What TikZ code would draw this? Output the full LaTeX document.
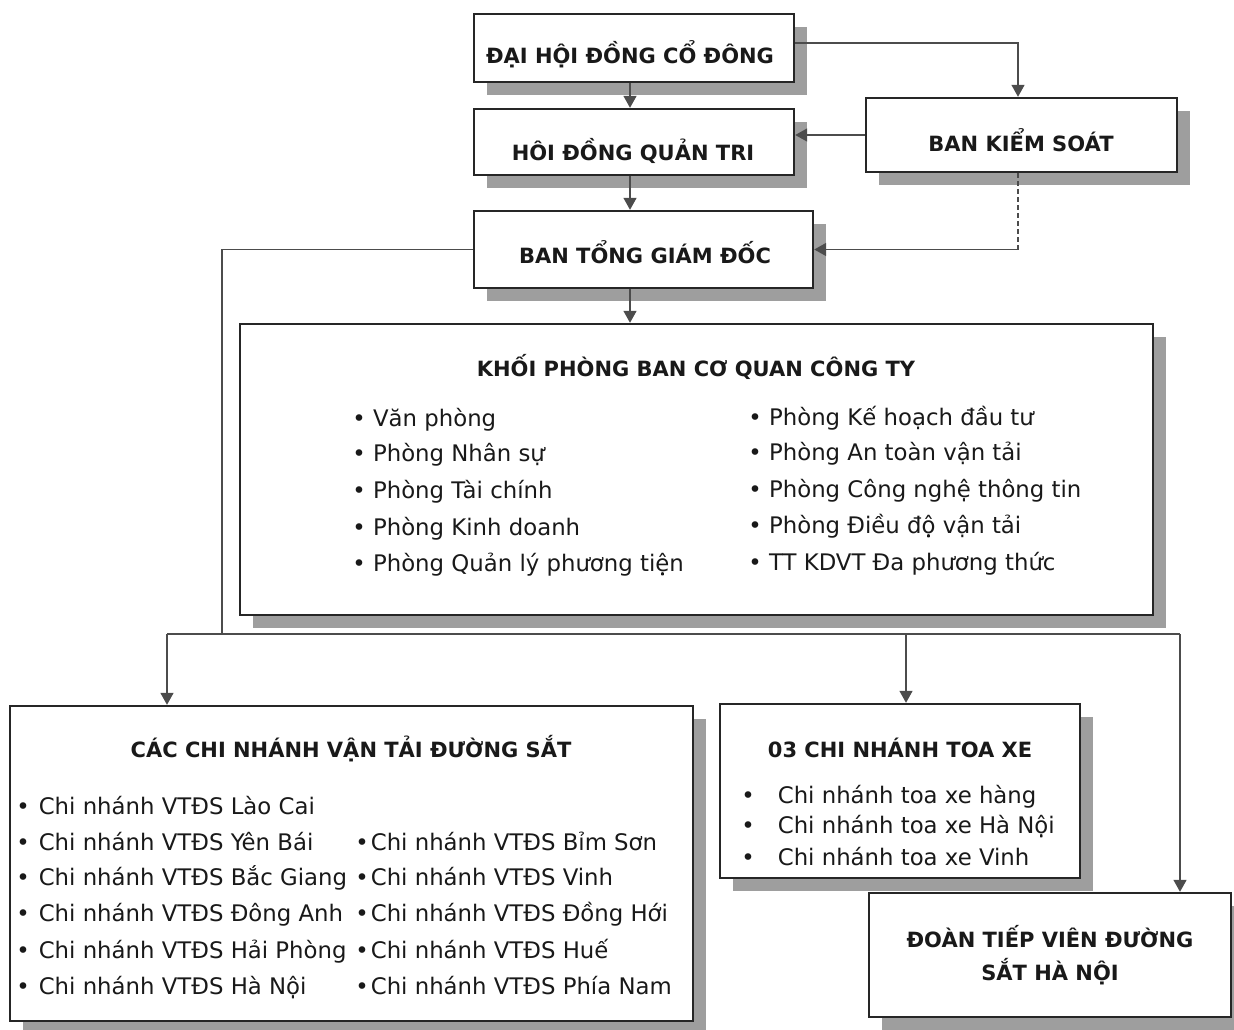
\documentclass[tikz,border=0pt]{standalone}
\usepackage{fontspec}
\setmainfont{DejaVu Sans}
\usetikzlibrary{arrows.meta,shadows}
\begin{document}
\begin{tikzpicture}[x=0.5pt,y=-0.5pt,
  box/.style={draw=black!85, line width=1.2pt, fill=white, inner sep=0pt,
    drop shadow={shadow xshift=6.5pt, shadow yshift=-6.5pt, fill=black!38, opacity=1}},
  ttl/.style={font=\bfseries\fontsize{10.5}{16.5}\selectfont, inner sep=0pt, anchor=base, text=black!90},
  itm/.style={font=\fontsize{11.4}{14}\selectfont, inner sep=0pt, anchor=base west, text=black!90},
  conn/.style={draw=black!70, line width=0.75pt},
  arr/.style={conn, -{Triangle[width=6.5pt,length=6pt]}, black!70},
]
\useasboundingbox (0,0) rectangle (1234,1029);

% boxes
\node[box, minimum width=160pt, minimum height=34pt] (b1) at (634,48) {};
\node[box, minimum width=160pt, minimum height=33pt] (b2) at (634,142) {};
\node[box, minimum width=169.5pt, minimum height=38.5pt] (b3) at (643.5,249.5) {};
\node[box, minimum width=155.5pt, minimum height=37pt] (bks) at (1021.5,135) {};
\node[box, minimum width=456.5pt, minimum height=145.5pt] (khoi) at (696.5,469.5) {};
\node[box, minimum width=341.5pt, minimum height=157.5pt] (cac) at (351.5,863.5) {};
\node[box, minimum width=180pt, minimum height=87pt] (toa) at (900,791) {};
\node[box, minimum width=181pt, minimum height=62pt] (doan) at (1050,955) {};

% titles
\node[ttl] (t1) at (630,63) {ĐẠI HỘI ĐỒNG CỔ ĐÔNG};
\node[ttl] (t2) at (633,160) {HÔI ĐỒNG QUẢN TRI};
\node[ttl] (t3) at (645,263) {BAN TỔNG GIÁM ĐỐC};
\node[ttl] (tks) at (1021,151) {BAN KIỂM SOÁT};
\node[ttl] (tkhoi) at (696,376) {KHỐI PHÒNG BAN CƠ QUAN CÔNG TY};
\node[ttl] (tcac) at (351,757) {CÁC CHI NHÁNH VẬN TẢI ĐƯỜNG SẮT};
\node[ttl] (ttoa) at (900,757) {03 CHI NHÁNH TOA XE};
\node[ttl, anchor=center, align=center] (tdoan) at (1050,955) {ĐOÀN TIẾP VIÊN ĐƯỜNG\\SẮT HÀ NỘI};

% KHOI items
\node[itm] (k1) at (352,426) {• Văn phòng};
\node[itm] (k2) at (352,461) {• Phòng Nhân sự};
\node[itm] (k3) at (352,498) {• Phòng Tài chính};
\node[itm] (k4) at (352,535) {• Phòng Kinh doanh};
\node[itm] (k5) at (352,571) {• Phòng Quản lý phương tiện};
\node[itm] (k6) at (748,425) {• Phòng Kế hoạch đầu tư};
\node[itm] (k7) at (748,460) {• Phòng An toàn vận tải};
\node[itm] (k8) at (748,497) {• Phòng Công nghệ thông tin};
\node[itm] (k9) at (748,533) {• Phòng Điều độ vận tải};
\node[itm] (k10) at (748,570) {• TT KDVT Đa phương thức};

% CAC items
\node[itm] (c1) at (16,814) {•\hspace{4.5pt}Chi nhánh VTĐS Lào Cai};
\node[itm] (c2) at (16,850) {•\hspace{4.5pt}Chi nhánh VTĐS Yên Bái};
\node[itm] (c3) at (16,885) {•\hspace{4.5pt}Chi nhánh VTĐS Bắc Giang};
\node[itm] (c4) at (16,921) {•\hspace{4.5pt}Chi nhánh VTĐS Đông Anh};
\node[itm] (c5) at (16,958) {•\hspace{4.5pt}Chi nhánh VTĐS Hải Phòng};
\node[itm] (c6) at (16,994) {•\hspace{4.5pt}Chi nhánh VTĐS Hà Nội};
\node[itm] (c7) at (355,850) {•\hspace{1pt}Chi nhánh VTĐS Bỉm Sơn};
\node[itm] (c8) at (355,885) {•\hspace{1pt}Chi nhánh VTĐS Vinh};
\node[itm] (c9) at (355,921) {•\hspace{1pt}Chi nhánh VTĐS Đồng Hới};
\node[itm] (c10) at (355,958) {•\hspace{1pt}Chi nhánh VTĐS Huế};
\node[itm] (c11) at (355,994) {•\hspace{1pt}Chi nhánh VTĐS Phía Nam};

% TOA items
\node[itm] (x1) at (741,803) {•\hspace{11.5pt}Chi nhánh toa xe hàng};
\node[itm] (x2) at (741,833) {•\hspace{11.5pt}Chi nhánh toa xe Hà Nội};
\node[itm] (x3) at (741,865) {•\hspace{11.5pt}Chi nhánh toa xe Vinh};

% helper coordinates
\coordinate (vx) at (630,0);
\coordinate (y43) at (0,43);
\coordinate (bus) at (222,634);
\coordinate (a1) at (167,634);
\coordinate (a2) at (906,634);
\coordinate (a3) at (1180,634);
\coordinate (ks) at (1018,0);
\coordinate (dc) at (bks.south -| ks);
\coordinate (corner) at (ks |- b3.east);

% connectors
\draw[arr] (b1.south -| vx) -- (b2.north -| vx);
\draw[arr] (b2.south -| vx) -- (b3.north -| vx);
\draw[arr] (b1.east |- y43) -| (bks.north -| ks);
\draw[arr] (bks.west) -- (bks.west -| b2.east);
\draw[conn, dash pattern=on 2.5pt off 1.5pt] (dc) -- (corner);
\draw[arr] (corner) -- (b3.east);
\draw[arr] (b3.south -| vx) -- (khoi.north -| vx);
\draw[conn] (b3.west) -| (bus);
\draw[conn] (a1) -- (a3);
\draw[arr] (a1) -- (a1 |- cac.north);
\draw[arr] (a2) -- (a2 |- toa.north);
\draw[arr] (a3) -- (a3 |- doan.north);
\end{tikzpicture}
\end{document}
